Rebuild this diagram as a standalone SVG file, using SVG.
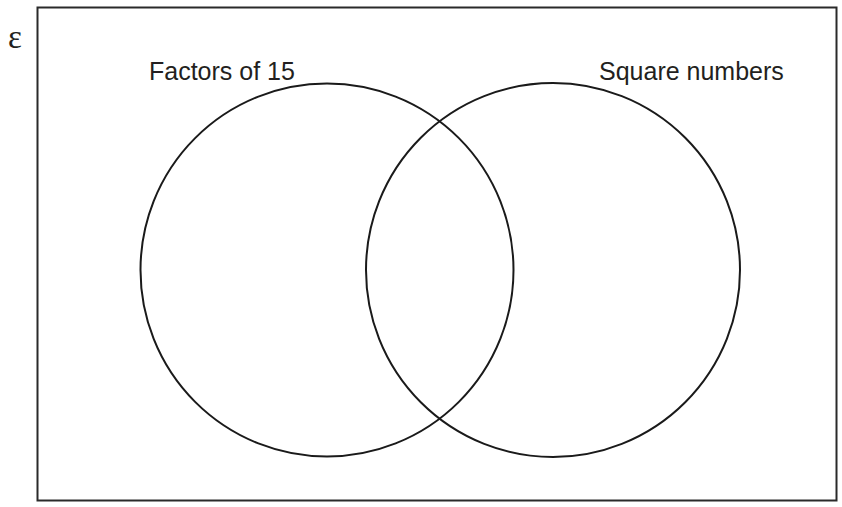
<svg xmlns="http://www.w3.org/2000/svg" width="842" height="507" viewBox="0 0 842 507">
<style>
.frame{fill:none;stroke:#2a2a2a;stroke-width:2}
.set{fill:none;stroke:#1a1a1a;stroke-width:2}
.lbl{font-family:"Liberation Sans",Arial,sans-serif;font-size:25px;fill:#231f20}
.eps{font-family:"Liberation Serif","Times New Roman",serif;font-size:33px;fill:#231f20}
</style>
<rect width="842" height="507" fill="#ffffff"/>
<g id="universal">
<rect class="frame" x="37.5" y="7.5" width="799" height="493"/>
<text class="eps" x="8" y="48">ε</text>
</g>
<g id="factors15">
<circle class="set" cx="327" cy="270" r="186.5"/>
<text class="lbl" x="149" y="80">Factors of 15</text>
</g>
<g id="squares">
<circle class="set" cx="553" cy="270" r="187"/>
<text class="lbl" x="599" y="80">Square numbers</text>
</g>
<g id="connectors"></g>
</svg>
